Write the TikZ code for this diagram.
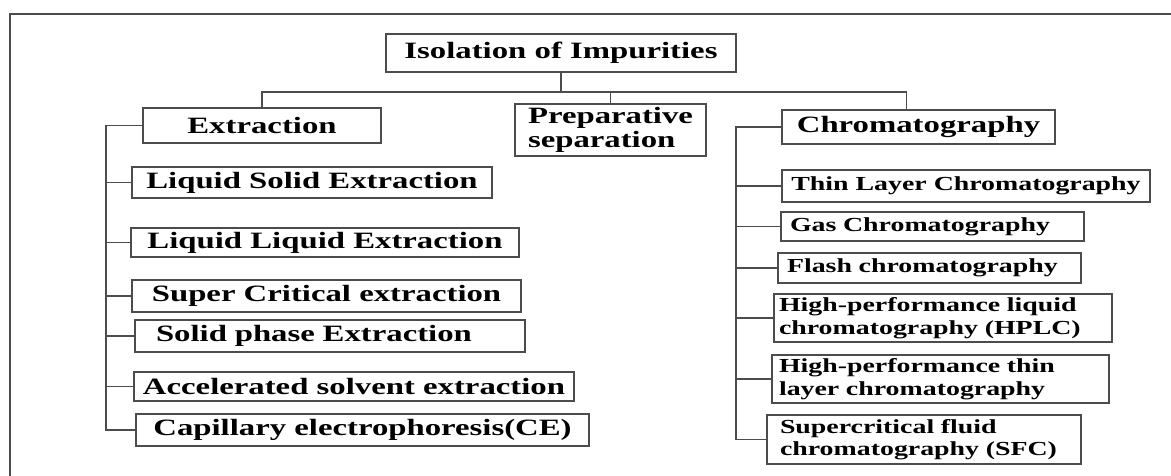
\documentclass[tikz,border=0pt]{standalone}
\usepackage{fontspec}
\newfontfamily\diagfont[FakeStretch=1.4]{Liberation Serif}
\tikzset{
 box/.style={draw=black!70,line width=1.1pt,inner sep=0pt,align=left,text=black,
  font=\diagfont\bfseries\fontsize{23.4}{24}\selectfont},
 smallbox/.style={box,font=\diagfont\bfseries\fontsize{19.9}{22.6}\selectfont},
 wire/.style={draw=black!70,line width=1.1pt}
}
\newcommand{\boxnode}[7][box]{\node[#1,minimum width={#5-#3},minimum height={#6-#4}] (#2) at ({(#3+#5)/2},{(#4+#6)/2}) {#7};}
\begin{document}
\begin{tikzpicture}[x=1pt,y=-1pt]
 \useasboundingbox (0,0) rectangle (1171,476);
 \draw[wire] (1171,14) -- (10,14) -- (10,476);
 \boxnode{title}{386}{34}{736}{72}{Isolation of Impurities}
 \boxnode{extr}{143}{108}{381}{143}{Extraction}
 \boxnode{prep}{515}{104}{706}{156}{Preparative\\ separation}
 \boxnode{chrom}{782}{110}{1055}{144}{Chromatography}
 \boxnode{lse}{132}{167}{492}{198}{Liquid Solid Extraction}
 \boxnode{lle}{131}{228}{519}{257}{Liquid Liquid Extraction}
 \boxnode{sce}{132}{280}{521}{312}{Super Critical extraction}
 \boxnode[box,text width=348pt,inner xsep=21pt]{spe}{135}{320}{525}{352}{Solid phase Extraction}
 \boxnode{ase}{134}{372}{574}{401}{Accelerated solvent extraction}
 \boxnode{ce}{136}{414}{589}{446}{Capillary electrophoresis(CE)}
 \boxnode[smallbox]{tlc}{782}{170}{1150}{202}{Thin Layer Chromatography}
 \boxnode[smallbox,text width=285pt,inner xsep=9pt]{gc}{781}{212}{1084}{241}{Gas Chromatography}
 \boxnode[smallbox,text width=285pt,inner xsep=9pt]{fc}{778}{253}{1081}{283}{Flash chromatography}
 \boxnode[smallbox,text width=328pt,inner xsep=5pt]{hplc}{774}{294}{1112}{342}{High-performance liquid\\ chromatography (HPLC)}
 \boxnode[smallbox,text width=323pt,inner xsep=7pt]{hptlc}{772}{355}{1109}{403}{High-performance thin\\ layer chromatography}
 \boxnode[smallbox,text width=288pt,inner xsep=13pt]{sfc}{767}{415}{1081}{464}{Supercritical fluid\\ chromatography (SFC)}
 \coordinate (bus) at (554,92);
 \coordinate (ltrunk) at (106,0);
 \coordinate (rtrunk) at (736,0);
 \draw[wire] (title.south) -- (title.south |- bus);
 \draw[wire] (extr.north) |- (bus) -| ([xshift=-12pt]chrom.north);
 \draw[wire] (prep.north) -- (prep.north |- bus);
 \draw[wire] (extr.west) -| (ltrunk |- ce.west) -- (ce.west);
 \foreach \n in {lse,lle,sce,spe,ase} \draw[wire] (\n.west) -- (\n.west -| ltrunk);
 \draw[wire] (chrom.west) -| (rtrunk |- sfc.west) -- (sfc.west);
 \foreach \n in {tlc,gc,fc,hplc,hptlc} \draw[wire] (\n.west) -- (\n.west -| rtrunk);
\end{tikzpicture}
\end{document}
